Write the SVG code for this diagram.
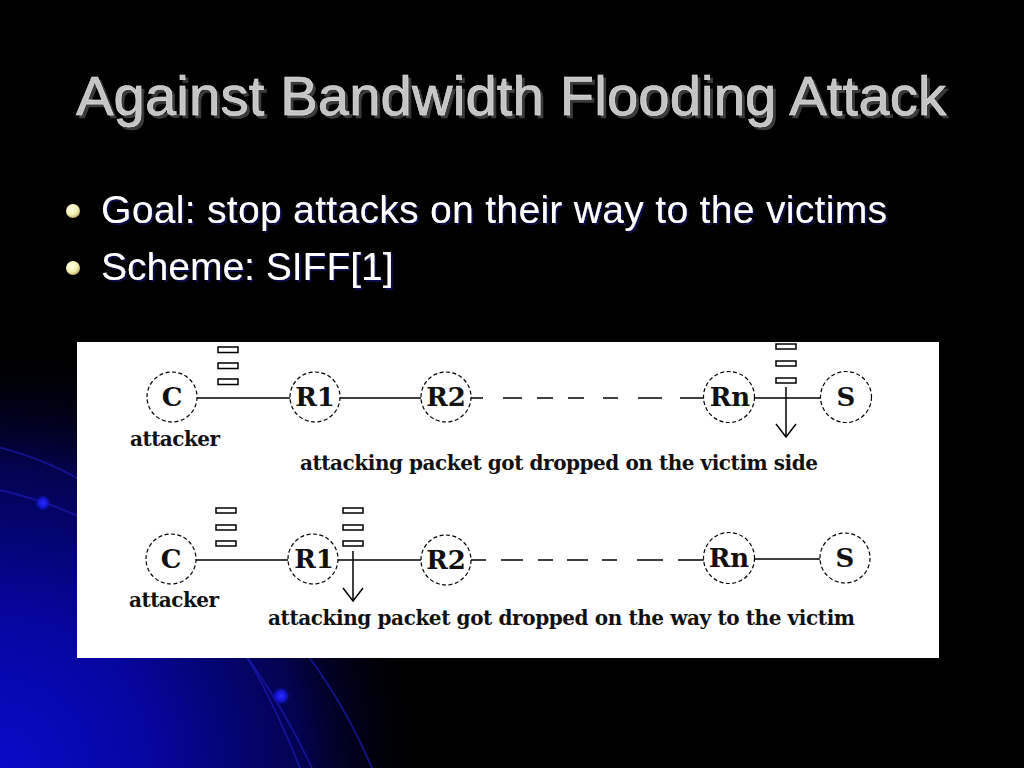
<svg xmlns="http://www.w3.org/2000/svg" width="1024" height="768" viewBox="0 0 1024 768">
<defs>
<radialGradient id="glow" cx="0" cy="768" r="430" gradientUnits="userSpaceOnUse">
<stop offset="0" stop-color="#0a0ac8"/>
<stop offset="0.35" stop-color="#0606a0"/>
<stop offset="0.7" stop-color="#030350"/>
<stop offset="1" stop-color="#000000" stop-opacity="0"/>
</radialGradient>
<radialGradient id="bul" cx="0.4" cy="0.35" r="0.7">
<stop offset="0" stop-color="#ffffee"/>
<stop offset="0.6" stop-color="#f4f0b0"/>
<stop offset="1" stop-color="#b8a860"/>
</radialGradient>
<radialGradient id="dot" cx="0.5" cy="0.5" r="0.5">
<stop offset="0" stop-color="#2a2aff"/>
<stop offset="0.6" stop-color="#1414d0"/>
<stop offset="1" stop-color="#0a0a90" stop-opacity="0"/>
</radialGradient>
<filter id="tshadow" x="-5%" y="-20%" width="110%" height="150%">
<feDropShadow dx="3" dy="3" stdDeviation="0.6" flood-color="#3a3a3a" flood-opacity="1"/>
</filter>
<filter id="bshadow" x="-5%" y="-20%" width="110%" height="150%">
<feDropShadow dx="2" dy="2" stdDeviation="0.5" flood-color="#10104a" flood-opacity="1"/>
</filter>
<style>
.title{font-family:"Liberation Sans",Arial,sans-serif;font-size:56px}
.bt{font-family:"Liberation Sans",Arial,sans-serif;font-size:39px;fill:#fff}
.orb{fill:none;stroke:#1a1ab0;stroke-width:2;opacity:0.7}
.node circle{fill:#fff;stroke:#000;stroke-width:1.2;stroke-dasharray:4 2.5}
.node text{font-family:"DejaVu Serif","Liberation Serif",serif;font-weight:bold;font-size:26px;text-anchor:middle;fill:#111}
.lbl{font-family:"DejaVu Serif","Liberation Serif",serif;font-weight:bold;font-size:20px;fill:#111}
.ln{stroke:#000;stroke-width:1.5;fill:none}
.q{fill:#fff;stroke:#000;stroke-width:1.5}
</style>
</defs>
<rect width="1024" height="768" fill="#000"/>
<rect width="1024" height="768" fill="url(#glow)"/>
<g id="decor">
<path class="orb" d="M -10,445 Q 190,490 300,768"/>
<path class="orb" d="M -10,488 Q 200,530 312,768"/>
<path class="orb" d="M 150,520 Q 300,600 372,768"/>
<circle cx="43" cy="503" r="8" fill="url(#dot)"/>
<circle cx="281" cy="696" r="9" fill="url(#dot)"/>
</g>
<g id="title">
<text class="title" x="76" y="115" fill="#c4c4c4" stroke="#e0e0e0" stroke-width="0.6" textLength="870" filter="url(#tshadow)">Against Bandwidth Flooding Attack</text>
</g>
<g id="bullets">
<circle cx="73" cy="211" r="7" fill="url(#bul)"/>
<circle cx="73" cy="268" r="7" fill="url(#bul)"/>
<text class="bt" x="101" y="223" textLength="786" filter="url(#bshadow)">Goal: stop attacks on their way to the victims</text>
<text class="bt" x="101" y="280" filter="url(#bshadow)">Scheme: SIFF[1]</text>
</g>
<rect id="panel" x="77" y="342" width="862" height="316" fill="#ffffff"/>
<g id="connectors">
<line class="ln" x1="197" y1="398" x2="290" y2="398"/>
<line class="ln" x1="340" y1="398" x2="421" y2="398"/>
<path class="ln" d="M471,398H483 M503,398H522 M537,398H553 M568,398H584 M603,398H618 M638,398H662 M680,398H704"/>
<line class="ln" x1="754" y1="398" x2="821" y2="398"/>
<line class="ln" x1="196" y1="560" x2="288" y2="560"/>
<line class="ln" x1="338" y1="560" x2="421" y2="560"/>
<path class="ln" d="M471,560H486 M501,560H523 M538,560H553 M567,560H588 M602,560H617 M637,560H663 M678,560H704"/>
<line class="ln" x1="754" y1="559" x2="820" y2="559"/>
<line class="ln" x1="786" y1="387" x2="786" y2="437"/>
<path class="ln" d="M776,424 L786,437 L796,424"/>
<line class="ln" x1="353" y1="551" x2="353" y2="601"/>
<path class="ln" d="M343,588 L353,601 L363,588"/>
</g>
<g id="queues">
<rect class="q" x="218" y="347" width="20" height="5.5"/>
<rect class="q" x="218" y="363" width="20" height="5.5"/>
<rect class="q" x="218" y="379" width="20" height="5.5"/>
<rect class="q" x="776" y="344" width="20" height="5"/>
<rect class="q" x="776" y="361" width="20" height="5"/>
<rect class="q" x="776" y="378" width="20" height="5"/>
<rect class="q" x="216" y="508" width="20" height="5"/>
<rect class="q" x="216" y="525" width="20" height="5"/>
<rect class="q" x="216" y="541" width="20" height="5"/>
<rect class="q" x="343" y="508" width="20" height="5"/>
<rect class="q" x="343" y="525" width="20" height="5"/>
<rect class="q" x="343" y="541" width="20" height="5"/>
</g>
<g id="node-C1" class="node"><circle cx="172" cy="397" r="25"/><text x="172" y="406">C</text></g>
<g id="node-R1a" class="node"><circle cx="315" cy="397" r="25"/><text x="315" y="406">R1</text></g>
<g id="node-R2a" class="node"><circle cx="446" cy="397" r="25"/><text x="446" y="406">R2</text></g>
<g id="node-Rna" class="node"><circle cx="729" cy="397" r="25.5"/><text x="730" y="406">Rn</text></g>
<g id="node-Sa" class="node"><circle cx="846" cy="397" r="25.5"/><text x="846" y="406">S</text></g>
<g id="node-C2" class="node"><circle cx="171" cy="559" r="25"/><text x="171" y="568">C</text></g>
<g id="node-R1b" class="node"><circle cx="313" cy="559" r="25"/><text x="314" y="568">R1</text></g>
<g id="node-R2b" class="node"><circle cx="446" cy="560" r="25"/><text x="446" y="569">R2</text></g>
<g id="node-Rnb" class="node"><circle cx="729" cy="558" r="25.5"/><text x="729" y="567">Rn</text></g>
<g id="node-Sb" class="node"><circle cx="845" cy="558" r="25"/><text x="845" y="567">S</text></g>
<g id="labels">
<text class="lbl" x="130" y="446" textLength="90">attacker</text>
<text class="lbl" x="300" y="470" textLength="518">attacking packet got dropped on the victim side</text>
<text class="lbl" x="129" y="607" textLength="90">attacker</text>
<text class="lbl" x="268" y="625" textLength="587">attacking packet got dropped on the way to the victim</text>
</g>
</svg>
